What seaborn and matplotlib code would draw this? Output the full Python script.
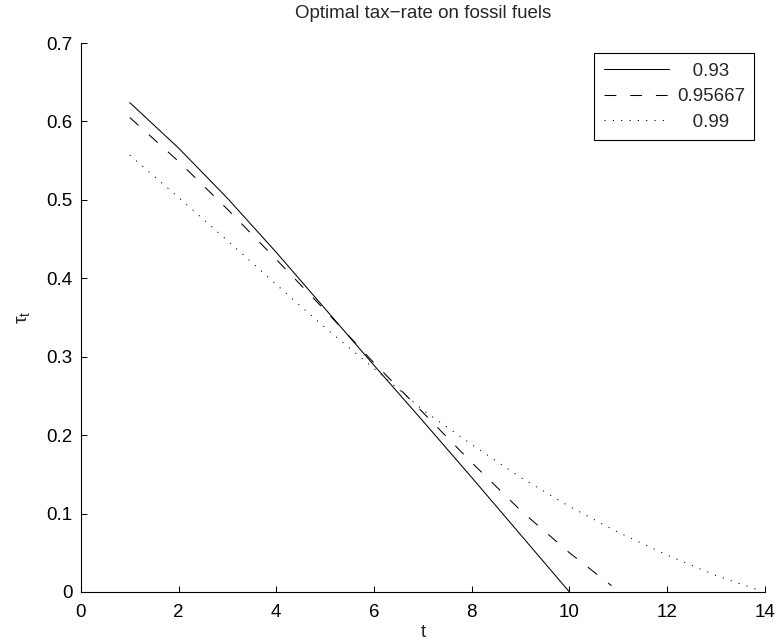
import matplotlib
matplotlib.use('Agg')
import pandas as pd
import seaborn as sns
from matplotlib import pyplot as plt

# discount factors shown in the legend
betas = ['0.93', '0.95667', '0.99']

# optimal tax-rate paths
t_a = [1, 2, 3, 4, 5, 6, 7, 8, 9, 10]
tau_a = [0.624, 0.566, 0.502, 0.433, 0.361, 0.289, 0.218, 0.146, 0.073, 0.0]

t_b = [1, 2, 3, 4, 5, 6, 7, 8, 9, 10, 10.86]
tau_b = [0.605, 0.549, 0.488, 0.424, 0.359, 0.292, 0.229, 0.165, 0.104, 0.050, 0.008]

t_c = [1, 2, 3, 4, 5, 6, 7, 8, 9, 10, 11, 12, 13, 13.89]
tau_c = [0.557, 0.503, 0.448, 0.392, 0.337, 0.285, 0.232, 0.188, 0.146, 0.109,
         0.076, 0.047, 0.021, 0.002]

xticks = [0, 2, 4, 6, 8, 10, 12, 14]
yticks = [0, 0.1, 0.2, 0.3, 0.4, 0.5, 0.6, 0.7]
ytick_labels = ['0', '0.1', '0.2', '0.3', '0.4', '0.5', '0.6', '0.7']

df = pd.concat([
    pd.DataFrame({'t': t_a, 'tau': tau_a, 'beta': betas[0]}),
    pd.DataFrame({'t': t_b, 'tau': tau_b, 'beta': betas[1]}),
    pd.DataFrame({'t': t_c, 'tau': tau_c, 'beta': betas[2]}),
])

sns.set_style('ticks', {'xtick.direction': 'in', 'ytick.direction': 'in',
                        'axes.edgecolor': 'black'})
plt.rcParams['font.family'] = ['Liberation Sans', 'DejaVu Sans']
plt.rcParams['font.size'] = 13.5
plt.rcParams['mathtext.fontset'] = 'custom'
plt.rcParams['mathtext.rm'] = 'Liberation Sans'
plt.rcParams['mathtext.it'] = 'Liberation Sans'
plt.rcParams['lines.scale_dashes'] = False

fig = plt.figure(figsize=(7.78, 6.42), dpi=100)
ax = fig.add_axes([0.104, 0.078, 0.879, 0.855])

sns.lineplot(data=df, x='t', y='tau', hue='beta', style='beta',
             palette=['black'] * 3,
             dashes={'0.93': '', '0.95667': (8.5, 10), '0.99': (0.8, 5.2)},
             linewidth=0.75, estimator=None, sort=False, ax=ax)

ax.set_xlim(0, 14)
ax.set_ylim(0, 0.7)
ax.set_xticks(xticks)
ax.set_yticks(yticks)
ax.set_yticklabels(ytick_labels)
ax.tick_params(length=4, width=0.75, colors='black', labelsize=13.5)
ax.tick_params(axis='x', pad=9)
ax.tick_params(axis='y', pad=6)
for s in ax.spines.values():
    s.set_linewidth(0.8)
sns.despine(ax=ax)

ax.set_title('Optimal tax\u2212rate on fossil fuels', fontsize=13.5, pad=18)
ax.set_xlabel('t', fontsize=13.5, labelpad=2)
ax.set_ylabel(r'$\tau_t$', fontsize=14, labelpad=10)

handles, labels = ax.get_legend_handles_labels()
labels = ['\u2007 0.93 \u2007', '0.95667', '\u2007 0.99 \u2007']
leg = ax.legend(handles, labels, loc='upper right', fontsize=13.5,
                handlelength=3.5, handletextpad=0.4, labelspacing=0.45,
                borderpad=0.5, borderaxespad=0.55, fancybox=False,
                framealpha=1, edgecolor='black')
leg.get_frame().set_linewidth(0.8)

fig.savefig('out.png', dpi=100)
